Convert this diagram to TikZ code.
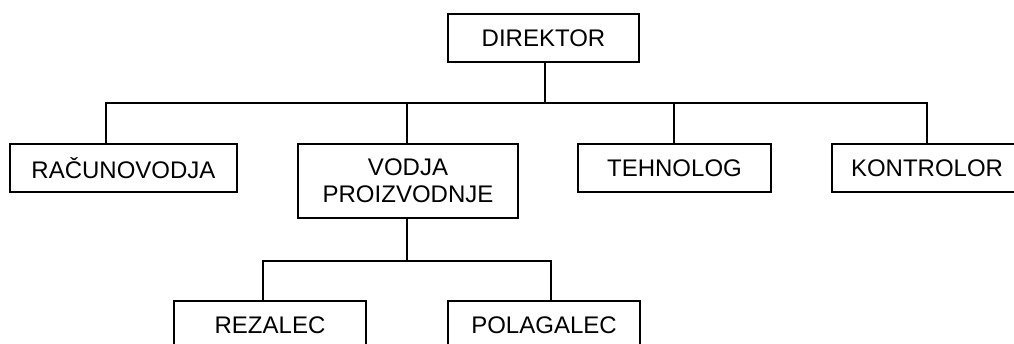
\documentclass[tikz,border=0pt]{standalone}
\usepackage{fontspec}
\setmainfont{Liberation Sans}
\begin{document}
\begin{tikzpicture}[x=1pt,y=-1pt,
  post/.style={draw,line width=1.8pt,rectangle,inner sep=0pt,
    minimum height=48pt,font=\fontsize{24}{27}\selectfont,align=center},
  link/.style={line width=1.8pt}]
\useasboundingbox (0,0) rectangle (1014,343);
\clip (0,0) rectangle (1014,343);
% boxes
\node[post,minimum width=191pt] (dir) at (543.5,38) {DIREKTOR};
\node[post,minimum width=227pt] (rac) at (123.5,168) {RAČUNOVODJA};
\node[post,minimum width=220pt,minimum height=74pt] (vod) at (408,181) {VODJA\\PROIZVODNJE};
\node[post,minimum width=193pt] (teh) at (674.5,168) {TEHNOLOG};
\node[post,minimum width=190pt] (kon) at (927,168) {KONTROLOR};
\node[post,minimum width=192pt] (rez) at (270,325) {REZALEC};
\node[post,minimum width=192pt] (pol) at (544,325) {POLAGALEC};
% branch points
\coordinate (d0) at (545,103);
\coordinate (r0) at (106,103);
\coordinate (k0) at (927,103);
\coordinate (v0) at (407,261);
\coordinate (z0) at (263,261);
\coordinate (p0) at (551,261);
% connectors
\draw[link] (dir.south -| d0) -- (d0);
\draw[link] (rac.north -| r0) -- (r0) -- (k0) -- (kon.north);
\draw[link] (vod.north -| v0) -- (v0 |- d0);
\draw[link] (teh.north -| 674,0) -- (674,103);
\draw[link] (vod.south -| v0) -- (v0);
\draw[link] (rez.north -| z0) -- (z0) -- (p0) -- (pol.north -| p0);
\end{tikzpicture}
\end{document}
